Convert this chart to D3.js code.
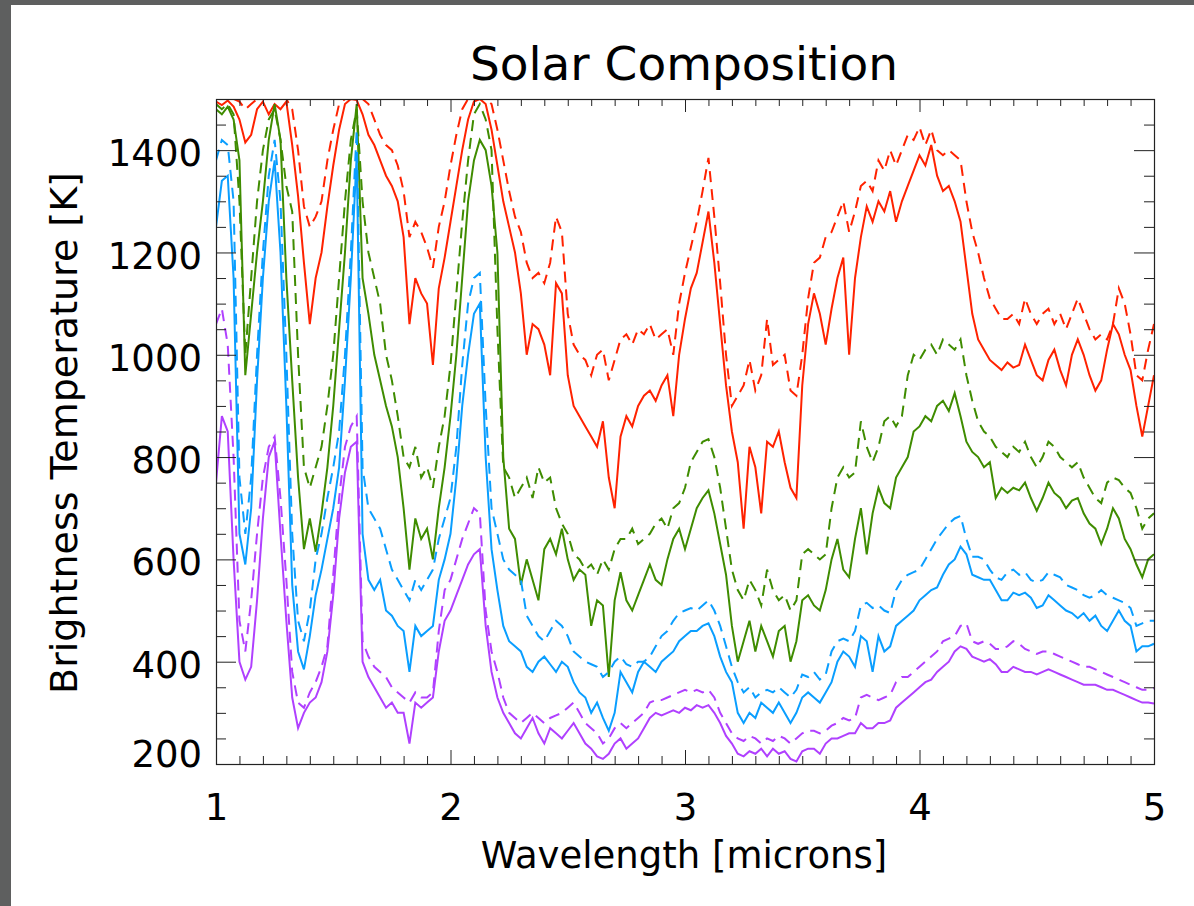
<!DOCTYPE html>
<html>
<head>
<meta charset="utf-8">
<script src="https://cdn.jsdelivr.net/npm/d3@7"></script>
<style>
  body { margin: 0; background: #fff; }
  svg { display: block; }
  text { font-family: "DejaVu Sans", sans-serif; fill: #000; }
</style>
</head>
<body>
<div id="chart"></div>
<script>
// wavelength grid (microns), one sample every 0.025
const wavelength = d3.range(161).map(i => +(1 + i * 0.025).toFixed(3));

// brightness temperatures [K]
const redSolid = [
  1495,1488,1497,1485,1460,1415,1430,1480,1495,1470,
  1490,1480,1495,1410,1310,1180,1060,1150,1200,1290,
  1370,1440,1490,1500,1498,1470,1430,1410,1380,1350,
  1330,1300,1230,1060,1150,1120,1100,980,1130,1190,
  1260,1330,1400,1460,1495,1500,1490,1440,1370,1300,
  1250,1200,1120,1000,1060,1050,1020,960,1140,1120,
  960,900,880,860,840,820,870,760,700,840,
  880,860,900,920,930,910,940,960,880,1000,
  1070,1130,1160,1220,1280,1180,1060,940,850,790,
  660,820,780,690,830,820,850,790,740,720,
  940,1060,1120,1080,1020,1090,1150,1190,1000,1150,
  1230,1290,1260,1300,1280,1320,1260,1300,1330,1360,
  1390,1370,1410,1350,1320,1330,1300,1260,1170,1080,
  1030,1010,990,980,970,985,975,980,1020,990,
  960,950,990,1010,970,940,1000,1030,1000,960,
  930,950,1010,1060,1040,1000,970,900,840,900,
  960];

const redDashed = [
  1500,1500,1500,1500,1495,1480,1490,1500,1500,1500,
  1500,1500,1500,1480,1400,1290,1250,1270,1300,1380,
  1440,1490,1500,1500,1500,1500,1490,1460,1430,1410,
  1400,1370,1320,1230,1260,1240,1210,1170,1250,1300,
  1370,1430,1480,1500,1500,1500,1500,1490,1440,1380,
  1320,1270,1240,1180,1150,1160,1140,1180,1270,1240,
  1080,1020,1000,990,960,1000,1010,950,990,1030,
  1040,1020,1050,1040,1060,1030,1040,1050,1000,1100,
  1160,1210,1260,1320,1385,1270,1140,1000,900,920,
  940,990,930,960,1070,980,990,1000,930,920,
  1000,1110,1180,1190,1230,1240,1270,1300,1240,1280,
  1330,1340,1320,1380,1360,1400,1370,1400,1430,1420,
  1445,1410,1440,1400,1390,1400,1390,1380,1300,1240,
  1200,1150,1110,1090,1070,1070,1080,1060,1110,1080,
  1060,1080,1090,1060,1080,1050,1080,1110,1080,1050,
  1030,1040,1030,1060,1130,1100,1040,960,950,1010,
  1060];

const greenSolid = [
  1480,1470,1485,1460,1380,960,1080,1200,1300,1420,
  1490,1420,1150,950,760,620,680,615,690,780,
  900,1050,1200,1380,1490,1150,1080,1000,950,900,
  860,800,700,580,680,640,660,600,700,780,
  880,1000,1150,1300,1380,1420,1400,1330,1200,800,
  660,640,550,600,560,520,620,640,610,660,
  600,560,580,570,470,520,510,370,520,575,
  520,500,530,560,590,560,550,600,640,660,
  620,660,700,720,735,690,630,570,470,400,
  440,480,420,470,440,410,460,470,400,440,
  520,530,510,500,540,600,640,580,565,640,
  700,610,690,740,710,700,760,780,800,850,
  860,880,870,900,910,890,925,880,830,810,
  800,780,790,720,740,730,740,735,750,720,
  695,720,750,730,720,700,715,720,690,670,
  660,630,660,700,680,640,620,590,565,600,
  610];

const greenDashed = [
  1490,1480,1490,1470,1300,1000,1150,1300,1400,1460,
  1480,1420,1330,1280,1000,780,740,780,820,900,
  1000,1150,1300,1420,1480,1300,1200,1150,1100,1000,
  950,880,800,780,820,760,780,740,820,880,
  980,1120,1260,1380,1470,1490,1460,1400,1050,780,
  760,720,740,760,720,780,750,760,700,670,
  650,610,600,580,590,570,600,580,620,640,
  640,660,630,640,650,670,680,660,700,710,
  740,790,810,830,835,800,740,660,580,540,
  520,560,540,510,580,540,520,530,500,520,
  610,620,610,600,610,700,760,780,760,770,
  870,820,790,820,870,880,860,880,960,1000,
  990,1010,1020,1000,1030,1020,1010,1030,960,910,
  870,850,840,820,810,800,820,810,830,800,
  780,800,830,820,800,790,780,790,760,740,
  720,710,750,760,755,740,730,700,660,680,
  690];

const blueSolid = [
  1250,1340,1350,1150,650,590,700,950,1150,1300,
  1380,1200,900,550,420,385,450,530,580,640,
  700,780,950,1150,1390,650,560,540,560,500,
  490,470,460,380,470,450,460,470,560,600,
  650,760,900,1000,1080,1100,800,620,540,470,
  440,430,420,390,380,400,410,395,380,400,
  390,360,340,330,300,320,290,265,300,380,
  360,340,380,400,390,380,400,410,420,440,
  450,460,460,470,475,450,410,380,360,300,
  280,300,290,320,310,300,320,300,280,300,
  330,340,330,320,340,360,400,420,410,390,
  450,440,380,450,420,430,470,480,490,500,
  520,530,540,545,570,590,600,625,610,570,
  565,560,560,540,520,520,535,530,535,525,
  505,510,530,520,510,500,495,485,495,480,
  490,470,460,480,500,480,470,420,430,430,
  435];

const blueDashed = [
  1380,1420,1410,1300,760,650,760,1000,1200,1350,
  1420,1300,1000,650,480,440,500,600,650,720,
  780,850,1000,1200,1440,780,700,680,660,620,
  580,560,540,520,560,540,560,580,640,680,
  720,820,980,1100,1150,1160,900,700,650,600,
  580,570,560,490,470,450,440,460,480,470,
  450,420,410,400,395,390,370,380,400,410,
  395,390,400,400,410,430,450,460,480,495,
  500,505,500,510,520,500,470,430,390,360,
  340,350,330,340,345,340,350,340,330,345,
  375,370,380,365,375,420,440,445,440,460,
  510,515,505,510,500,495,540,560,570,575,
  580,600,620,640,655,670,680,685,640,605,
  605,600,580,565,560,575,580,570,575,560,
  555,560,575,570,565,550,545,540,530,525,
  530,540,530,525,520,515,505,470,475,480,
  480];

const purpleSolid = [
  750,880,850,600,400,365,390,520,680,800,
  830,650,480,330,270,300,320,330,360,420,
  530,680,770,820,830,400,370,350,330,310,
  320,300,300,240,320,310,320,330,420,480,
  500,530,560,590,610,620,470,380,330,300,
  280,260,250,270,290,260,240,270,260,250,
  265,280,260,240,230,215,210,220,240,250,
  230,240,250,270,290,300,295,300,305,300,
  310,305,315,310,315,300,280,255,240,220,
  215,225,220,230,215,230,220,225,210,205,
  225,230,230,220,240,250,250,255,260,260,
  280,270,270,280,280,285,310,320,330,340,
  350,360,365,380,390,400,420,430,425,410,
  405,400,405,395,380,380,390,385,380,380,
  375,380,385,380,375,370,365,360,355,355,
  355,350,345,345,340,335,330,325,320,320,
  318];

const purpleDashed = [
  1060,1090,1020,800,480,420,520,650,760,820,
  840,720,560,380,320,310,340,360,390,430,
  570,720,820,860,880,440,410,390,380,370,
  350,340,330,320,340,330,330,340,460,540,
  560,600,640,670,700,690,500,420,380,330,
  300,290,280,290,300,290,280,290,295,300,
  310,320,300,280,270,260,240,250,270,280,
  270,280,290,300,320,325,325,330,335,340,
  345,340,345,340,345,330,300,280,260,250,
  245,255,250,240,250,245,255,250,240,250,
  260,265,265,260,265,275,280,290,285,290,
  330,335,330,325,330,335,360,370,370,380,
  390,400,410,420,440,445,450,470,475,440,
  435,440,435,425,425,430,440,435,425,420,
  415,420,420,415,410,405,400,395,390,390,
  385,380,375,370,365,360,355,350,345,345,
  348];

const xMajor = [1, 2, 3, 4, 5];
const yMajor = [200, 400, 600, 800, 1000, 1200, 1400];

const series = [
  { values: redSolid, color: "#ff2200", dashed: false },
  { values: redDashed, color: "#ff2200", dashed: true },
  { values: greenSolid, color: "#3f8c00", dashed: false },
  { values: greenDashed, color: "#3f8c00", dashed: true },
  { values: blueSolid, color: "#0a9eff", dashed: false },
  { values: blueDashed, color: "#0a9eff", dashed: true },
  { values: purpleSolid, color: "#b040ff", dashed: false },
  { values: purpleDashed, color: "#b040ff", dashed: true }
];

const width = 1194;
const height = 906;
const plot = { left: 216, right: 1154, top: 99, bottom: 764 };

const x = d3.scaleLinear().domain([1, 5]).range([plot.left, plot.right]);
const y = d3.scaleLinear().domain([200, 1500]).range([plot.bottom, plot.top]);

const svg = d3.select("#chart")
  .append("svg")
  .attr("width", width)
  .attr("height", height);

svg.append("rect").attr("width", width).attr("height", height).attr("fill", "#fff");

// dark window edge on the top and left
svg.append("rect").attr("x", 0).attr("y", 0).attr("width", width).attr("height", 5).attr("fill", "#5e5f5f");
svg.append("rect").attr("x", 0).attr("y", 0).attr("width", 11).attr("height", height).attr("fill", "#5e5f5f");

svg.append("clipPath").attr("id", "plot-clip")
  .append("rect")
  .attr("x", plot.left)
  .attr("y", plot.top)
  .attr("width", plot.right - plot.left)
  .attr("height", plot.bottom - plot.top);

const line = d3.line()
  .x((d, i) => x(wavelength[i]))
  .y(d => y(d));

svg.append("g")
  .attr("clip-path", "url(#plot-clip)")
  .selectAll("path")
  .data(series)
  .join("path")
  .attr("fill", "none")
  .attr("stroke", d => d.color)
  .attr("stroke-width", 2)
  .attr("stroke-dasharray", d => d.dashed ? "11,7" : null)
  .attr("d", d => line(d.values));

// minor tick positions
const xMinor = d3.range(10, 50).filter(v => v % 10 !== 0).map(v => v / 10);
const yMinor = d3.range(200, 1501, 50).filter(v => v % 200 !== 0);

function addAxis(axis, transform) {
  const g = svg.append("g")
    .attr("transform", transform)
    .attr("color", "#222")
    .call(axis);
  g.select(".domain").remove();
  return g;
}

// bottom
const xAxis = addAxis(d3.axisBottom(x).tickValues(xMajor).tickSizeInner(-14).tickSizeOuter(0)
  .tickPadding(30).tickFormat(d3.format("d")), `translate(0,${plot.bottom})`);
xAxis.selectAll("text").style("font-size", "37px");
addAxis(d3.axisBottom(x).tickValues(xMinor).tickSizeInner(-8).tickSizeOuter(0).tickFormat(""),
  `translate(0,${plot.bottom})`);

// top
addAxis(d3.axisTop(x).tickValues(xMajor).tickSizeInner(-13).tickSizeOuter(0).tickFormat(""),
  `translate(0,${plot.top})`);
addAxis(d3.axisTop(x).tickValues(xMinor).tickSizeInner(-7).tickSizeOuter(0).tickFormat(""),
  `translate(0,${plot.top})`);

// left
const yAxis = addAxis(d3.axisLeft(y).tickValues(yMajor).tickSizeInner(-20).tickSizeOuter(0)
  .tickPadding(14).tickFormat(d3.format("d")), `translate(${plot.left},0)`);
yAxis.selectAll("text")
  .style("font-size", "37px")
  .attr("dy", d => d === 200 ? "0.08em" : "0.42em");
addAxis(d3.axisLeft(y).tickValues(yMinor).tickSizeInner(-10).tickSizeOuter(0).tickFormat(""),
  `translate(${plot.left},0)`);

// right
addAxis(d3.axisRight(y).tickValues(yMajor).tickSizeInner(-20).tickSizeOuter(0).tickFormat(""),
  `translate(${plot.right},0)`);
addAxis(d3.axisRight(y).tickValues(yMinor).tickSizeInner(-10).tickSizeOuter(0).tickFormat(""),
  `translate(${plot.right},0)`);

// plot box
svg.append("rect")
  .attr("x", plot.left + 0.5)
  .attr("y", plot.top + 0.5)
  .attr("width", plot.right - plot.left)
  .attr("height", plot.bottom - plot.top)
  .attr("fill", "none")
  .attr("stroke", "#222")
  .attr("stroke-width", 1.2);

// titles
svg.append("text")
  .attr("x", 684)
  .attr("y", 80)
  .attr("text-anchor", "middle")
  .style("font-size", "47px")
  .text("Solar Composition");

svg.append("text")
  .attr("x", 684)
  .attr("y", 868)
  .attr("text-anchor", "middle")
  .style("font-size", "37px")
  .text("Wavelength [microns]");

svg.append("text")
  .attr("transform", "translate(77,433) rotate(-90)")
  .attr("text-anchor", "middle")
  .style("font-size", "38px")
  .text("Brightness Temperature [K]");
</script>
</body>
</html>
